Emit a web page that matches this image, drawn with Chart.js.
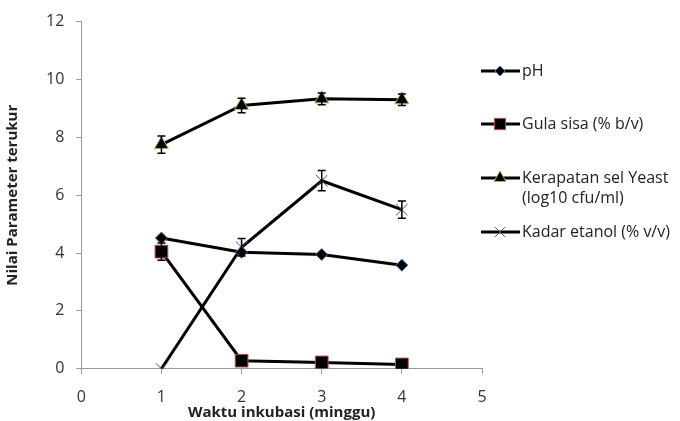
<!DOCTYPE html>
<html>
<head>
<meta charset="utf-8">
<script src="https://cdn.jsdelivr.net/npm/chart.js@4/dist/chart.umd.min.js"></script>
<style>
  html, body { margin: 0; padding: 0; background: #fff; }
  #wrap { width: 680px; height: 421px; position: relative; }
</style>
</head>
<body>
<div id="wrap"><canvas id="myChart" width="680" height="421"></canvas></div>
<script>
// minggu ke-
var weeks = [1, 2, 3, 4];
var xTicks = [0, 1, 2, 3, 4, 5];

var phVals = [4.52, 4.03, 3.95, 3.58];
var gulaVals = [4.05, 0.28, 0.22, 0.15];
var gulaErr = [0.3, 0, 0, 0];
var yeastVals = [7.75, 9.1, 9.33, 9.3];
var yeastErr = [0.3, 0.25, 0.2, 0.2];
var etanolVals = [0, 4.2, 6.5, 5.5];
var etanolErr = [0, 0.3, 0.35, 0.3];

var labels = ['pH', 'Gula sisa (% b/v)', ['Kerapatan sel Yeast', '(log10 cfu/ml)'], 'Kadar etanol (% v/v)'];

var FONT = '"Open Sans", sans-serif';

function pts(vals){
    var out=[];
    for(let i=0;i<weeks.length;i++){ out.push({x:weeks[i], y:vals[i]}); }
    return out;
}

// error bars drawn through the scales
var errorBars = {
    id: 'errorBars',
    afterDatasetsDraw: function(chart){
        var ctx = chart.ctx;
        var xs = chart.scales.x, ys = chart.scales.y;
        ctx.save();
        ctx.strokeStyle = '#000';
        ctx.lineWidth = 1.5;
        chart.data.datasets.forEach(function(ds){
            if(!ds.errors) return;
            ds.data.forEach(function(p, i){
                var e = ds.errors[i];
                if(!e) return;
                var px = xs.getPixelForValue(p.x);
                var top = ys.getPixelForValue(p.y + e);
                var bot = ys.getPixelForValue(p.y - e);
                ctx.beginPath();
                ctx.moveTo(px, top); ctx.lineTo(px, bot);
                ctx.moveTo(px-4, top); ctx.lineTo(px+4, top);
                ctx.moveTo(px-4, bot); ctx.lineTo(px+4, bot);
                ctx.stroke();
            });
        });
        ctx.restore();
    }
};

// legend on the right: line + marker + text
var sideLegend = {
    id: 'sideLegend',
    afterDraw: function(chart){
        var ctx = chart.ctx;
        var rows = [71, 124, 178, 232];
        ctx.save();
        chart.data.datasets.forEach(function(ds, i){
            var y = rows[i];
            ctx.strokeStyle = '#000';
            ctx.lineWidth = 3;
            ctx.beginPath();
            ctx.moveTo(481, y); ctx.lineTo(520, y);
            ctx.stroke();
            ctx.fillStyle = ds.pointBackgroundColor;
            ctx.strokeStyle = ds.pointBorderColor;
            ctx.lineWidth = 1;
            Chart.helpers.drawPoint(ctx, {pointStyle: ds.pointStyle, radius: ds.legendRadius, rotation: 0, borderWidth: 1}, 500, y);
            ctx.fillStyle = '#222';
            ctx.font = '16px ' + FONT;
            ctx.textBaseline = 'middle';
            var txt = labels[i];
            if(Array.isArray(txt)){
                ctx.fillText(txt[0], 522, y);
                ctx.fillText(txt[1], 522, y + 20);
            } else {
                ctx.fillText(txt, 522, y);
            }
        });
        ctx.restore();
    }
};

const ctx = document.getElementById('myChart').getContext('2d');
const myChart = new Chart(ctx, {
    type: 'line',
    data: {
        datasets: [{
            label: 'pH',
            data: pts(phVals),
            borderColor: '#000',
            borderWidth: 3,
            pointStyle: 'rectRot',
            pointRadius: 6,
            legendRadius: 5,
            pointBackgroundColor: '#000',
            pointBorderColor: '#3d6fa8',
            pointBorderWidth: 1
        },{
            label: 'Gula sisa (% b/v)',
            data: pts(gulaVals),
            errors: gulaErr,
            borderColor: '#000',
            borderWidth: 3,
            pointStyle: 'rect',
            pointRadius: 9,
            legendRadius: 8,
            pointBackgroundColor: '#000',
            pointBorderColor: '#c0504d',
            pointBorderWidth: 1
        },{
            label: 'Kerapatan sel Yeast (log10 cfu/ml)',
            data: pts(yeastVals),
            errors: yeastErr,
            borderColor: '#000',
            borderWidth: 3,
            pointStyle: 'triangle',
            pointRadius: 8,
            legendRadius: 7,
            pointBackgroundColor: '#000',
            pointBorderColor: '#9bbb59',
            pointBorderWidth: 1
        },{
            label: 'Kadar etanol (% v/v)',
            data: pts(etanolVals),
            errors: etanolErr,
            borderColor: '#000',
            borderWidth: 3,
            pointStyle: 'crossRot',
            pointRadius: 8,
            legendRadius: 7,
            pointBackgroundColor: '#000',
            pointBorderColor: '#555',
            pointBorderWidth: 1
        }]
    },
    options: {
        responsive: false,
        animation: false,
        layout: { padding: { top: 19, right: 198, bottom: 0, left: 4 } },
        plugins: {
            legend: { display: false },
            tooltip: { enabled: false }
        },
        elements: { line: { tension: 0 } },
        scales: {
            x: {
                type: 'linear',
                min: 0, max: 5,
                afterBuildTicks: function(axis){ axis.ticks = xTicks.map(function(v){ return {value: v}; }); },
                grid: { drawOnChartArea: false, drawTicks: true, tickLength: 5, color: '#999' },
                border: { display: true, color: '#999', width: 1 },
                ticks: { color: '#333', font: { family: FONT, size: 16 }, padding: 14 },
                title: { display: true, text: 'Waktu inkubasi (minggu)', color: '#222', font: { family: FONT, size: 15, weight: 'bold' }, padding: { top: -17, bottom: -1 } }
            },
            y: {
                min: 0, max: 12,
                ticks: { stepSize: 2, color: '#333', font: { family: FONT, size: 16 }, padding: 12 },
                grid: { drawOnChartArea: false, drawTicks: true, tickLength: 5, color: '#999' },
                border: { display: true, color: '#999', width: 1 },
                title: { display: true, text: 'Nilai Parameter terukur', color: '#222', font: { family: FONT, size: 15, weight: 'bold' }, padding: { top: 0, bottom: 12 } }
            }
        }
    },
    plugins: [errorBars, sideLegend]
});
</script>
</body>
</html>
